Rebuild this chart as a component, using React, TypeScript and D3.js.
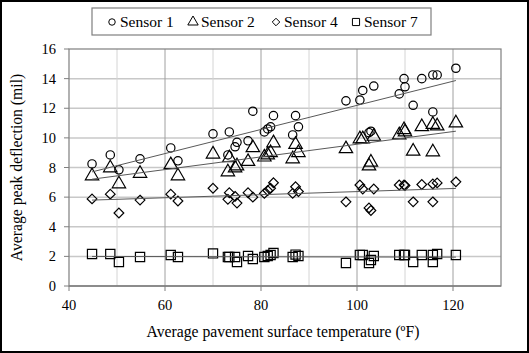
import * as d3 from 'd3'

// pavement surface temperature of each test (°F)
const temps = [
  44.8, 48.6, 50.4, 54.8, 61.2, 62.7, 70.0, 73.1, 73.4, 74.6, 75.0, 77.3, 78.3, 80.7, 81.4, 82.0, 82.6, 86.6,
  87.2, 87.8, 97.7, 100.6, 101.2, 102.5, 102.9, 103.5, 108.8, 109.8, 110.0, 111.7, 113.5, 115.8, 115.8, 116.7,
  120.6,
]

// average peak deflection (mil) per sensor
const sensor1 = [
  8.24, 8.85, 7.84, 8.58, 9.32, 8.45, 10.27, 8.85, 10.4, 9.4, 9.7, 9.8, 11.8, 10.4, 10.6, 10.75, 11.5, 10.2,
  11.5, 10.75, 12.5, 12.55, 13.2, 10.35, 10.45, 13.5, 12.97, 14.0, 13.45, 12.2, 14.0, 14.25, 11.75, 14.25, 14.7,
]
const sensor2 = [
  7.43, 7.97, 6.89, 7.6, 8.18, 7.43, 8.9, 7.7, 8.65, 7.97, 8.1, 8.4, 9.33, 8.7, 8.85, 9.0, 9.66, 8.58, 9.55,
  9.0, 9.26, 9.93, 9.93, 8.1, 8.35, 10.1, 10.2, 10.55, 10.4, 9.1, 10.75, 10.9, 9.05, 10.8, 11.0,
]
const sensor4 = [
  5.88, 6.2, 4.93, 5.8, 6.2, 5.74, 6.6, 5.85, 6.3, 6.05, 5.6, 6.3, 6.0, 6.25, 6.45, 6.6, 6.97, 6.25, 6.7, 6.38,
  5.68, 6.82, 6.55, 5.27, 5.1, 6.55, 6.82, 6.82, 6.78, 5.68, 6.85, 6.89, 5.68, 6.96, 7.03,
]
const sensor7 = [
  2.16, 2.16, 1.62, 1.96, 2.09, 1.96, 2.2, 1.96, 1.96, 1.96, 1.62, 2.03, 1.82, 1.96, 2.03, 2.09, 2.23, 1.96,
  2.12, 2.03, 1.55, 2.09, 2.09, 1.55, 1.76, 2.03, 2.09, 2.09, 2.09, 1.62, 2.09, 2.09, 1.62, 2.16, 2.09,
]

const seriesNames = ['Sensor 1', 'Sensor 2', 'Sensor 4', 'Sensor 7']
const seriesValues = [sensor1, sensor2, sensor4, sensor7]
const seriesSymbols = [d3.symbolCircle, d3.symbolTriangle, d3.symbolDiamond2, d3.symbolSquare]
const symbolSizes = [55, 78, 60, 85]

const xTicks = [40, 60, 80, 100, 120]
const xGrid = [50, 60, 70, 80, 90, 100, 110, 120]
const yTicks = [0, 2, 4, 6, 8, 10, 12, 14, 16]

const W = 529
const H = 353
const font = '"Liberation Serif", "Times New Roman", serif'

// least squares line over the data range
const fitLine = (xs: number[], ys: number[]) => {
  const mx = d3.mean(xs) as number
  const my = d3.mean(ys) as number
  let num = 0
  let den = 0
  xs.forEach((x, i) => {
    num += (x - mx) * (ys[i] - my)
    den += (x - mx) * (x - mx)
  })
  const b = num / den
  const a = my - b * mx
  const [x0, x1] = d3.extent(xs) as [number, number]
  return [
    [x0, a + b * x0],
    [x1, a + b * x1],
  ]
}

const App = () => {
  const x = d3.scaleLinear().domain([40, 130]).range([69, 501])
  const y = d3.scaleLinear().domain([0, 16]).range([286, 49])
  const line = d3
    .line<number[]>()
    .x((d) => x(d[0]))
    .y((d) => y(d[1]))

  const legendX = [112, 193, 276, 356]

  return (
    <svg
      width={W}
      height={H}
      style={{ position: 'absolute', left: 0, top: 0, background: '#fff' }}
      fontFamily={font}
    >
      <rect x={1} y={1} width={W - 2} height={H - 2} fill="#fff" stroke="#000" strokeWidth={2} />

      {/* grid */}
      {yTicks
        .filter((t) => t > 0 && t < 16)
        .map((t) => (
          <line key={'gy' + t} x1={69} x2={501} y1={y(t)} y2={y(t)} stroke="#c8c8c8" strokeWidth={1.5} />
        ))}
      {xGrid.map((t) => (
        <line
          key={'gx' + t}
          x1={x(t)}
          x2={x(t)}
          y1={49}
          y2={286}
          stroke={t % 20 === 0 ? '#a0a0a0' : '#d4d4d4'}
          strokeWidth={1}
        />
      ))}
      <rect x={69} y={49} width={432} height={237} fill="none" stroke="#7f7f7f" strokeWidth={1.2} />

      {/* axes */}
      {yTicks.map((t) => (
        <g key={'yt' + t}>
          <line x1={64} x2={69} y1={y(t)} y2={y(t)} stroke="#7f7f7f" />
          <text x={56} y={y(t)} dy="0.35em" textAnchor="end" fontSize={14.5}>
            {t}
          </text>
        </g>
      ))}
      {xTicks.map((t) => (
        <g key={'xt' + t}>
          <line x1={x(t)} x2={x(t)} y1={286} y2={291} stroke="#7f7f7f" />
          <text x={x(t)} y={310} textAnchor="middle" fontSize={14.5}>
            {t}
          </text>
        </g>
      ))}
      <line x1={69} x2={501} y1={286} y2={286} stroke="#7f7f7f" strokeWidth={1.5} />

      <text x={283} y={337} textAnchor="middle" fontSize={15.7}>
        Average pavement surface temperature (ºF)
      </text>
      <text transform={`translate(22,${(49 + 286) / 2}) rotate(-90)`} textAnchor="middle" fontSize={15.7}>
        Average peak deflection (mil)
      </text>

      {/* markers */}
      {seriesValues.map((vals, si) => (
        <g key={'s' + si}>
          {vals.map((v, i) => (
            <path
              key={i}
              transform={`translate(${x(temps[i])},${y(v)})`}
              d={d3.symbol(seriesSymbols[si], symbolSizes[si])() as string}
              fill="none"
              stroke="#000"
              strokeWidth={1.2}
            />
          ))}
        </g>
      ))}

      {/* trend lines */}
      {seriesValues.map((vals, si) => (
        <path key={'t' + si} d={line(fitLine(temps, vals)) as string} fill="none" stroke="#595959" strokeWidth={1} />
      ))}

      {/* legend */}
      <rect x={92} y={8} width={339} height={27} fill="#fff" stroke="#7f7f7f" strokeWidth={1.2} />
      {seriesNames.map((name, si) => (
        <g key={'l' + si}>
          <path
            transform={`translate(${legendX[si]},${22})`}
            d={d3.symbol(seriesSymbols[si], symbolSizes[si] * 0.6)() as string}
            fill="none"
            stroke="#000"
            strokeWidth={1}
          />
          <text x={legendX[si] + 8} y={27} fontSize={15.5}>
            {name}
          </text>
        </g>
      ))}
    </svg>
  )
}

export default App
